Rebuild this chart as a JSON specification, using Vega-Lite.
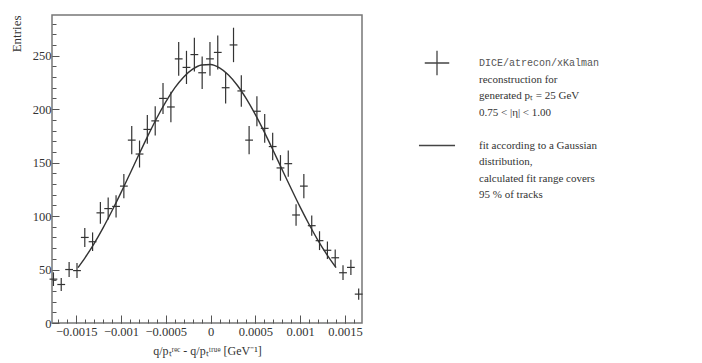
{
  "$schema": "https://vega.github.io/schema/vega-lite/v6.json",
  "padding": {"left": 9, "top": 14, "right": 5, "bottom": 2},
  "background": "white",
  "spacing": 40,
  "config": {
    "font": "Liberation Serif",
    "view": {"stroke": null},
    "axis": {"labelFont": "Liberation Serif", "titleFont": "Liberation Serif", "labelColor": "#333", "titleColor": "#333", "grid": false, "domain": false, "tickColor": "#555", "titleFontWeight": "normal"}
  },
  "datasets": {
    "hist": [
      {"x": -0.001754, "n": 41, "err": 6.4},
      {"x": -0.001667, "n": 36, "err": 6.0},
      {"x": -0.001579, "n": 50, "err": 7.1},
      {"x": -0.001491, "n": 49, "err": 7.0},
      {"x": -0.001404, "n": 80, "err": 8.9},
      {"x": -0.001317, "n": 76, "err": 8.7},
      {"x": -0.00123, "n": 103, "err": 10.1},
      {"x": -0.001143, "n": 107, "err": 10.3},
      {"x": -0.001055, "n": 109, "err": 10.4},
      {"x": -0.000968, "n": 128, "err": 11.3},
      {"x": -0.00088, "n": 171, "err": 13.1},
      {"x": -0.000793, "n": 158, "err": 12.6},
      {"x": -0.000706, "n": 181, "err": 13.5},
      {"x": -0.000618, "n": 189, "err": 13.7},
      {"x": -0.000531, "n": 210, "err": 14.5},
      {"x": -0.000443, "n": 202, "err": 14.2},
      {"x": -0.000356, "n": 247, "err": 15.7},
      {"x": -0.000269, "n": 239, "err": 15.5},
      {"x": -0.000181, "n": 251, "err": 15.8},
      {"x": -0.000094, "n": 234, "err": 15.3},
      {"x": -0.000007, "n": 247, "err": 15.7},
      {"x": 0.00008, "n": 253, "err": 15.9},
      {"x": 0.000168, "n": 220, "err": 14.8},
      {"x": 0.000256, "n": 260, "err": 16.1},
      {"x": 0.000343, "n": 217, "err": 14.7},
      {"x": 0.00043, "n": 171, "err": 13.1},
      {"x": 0.000517, "n": 198, "err": 14.1},
      {"x": 0.000604, "n": 182, "err": 13.5},
      {"x": 0.000693, "n": 165, "err": 12.8},
      {"x": 0.00078, "n": 145, "err": 12.0},
      {"x": 0.000867, "n": 149, "err": 12.2},
      {"x": 0.000954, "n": 101, "err": 10.0},
      {"x": 0.001041, "n": 128, "err": 11.3},
      {"x": 0.001129, "n": 91, "err": 9.5},
      {"x": 0.001216, "n": 77, "err": 8.8},
      {"x": 0.001304, "n": 68, "err": 8.2},
      {"x": 0.001391, "n": 61, "err": 7.8},
      {"x": 0.001478, "n": 47, "err": 6.9},
      {"x": 0.001566, "n": 52, "err": 7.2},
      {"x": 0.001653, "n": 27, "err": 5.2}
    ],
    "fit": [
      {"x": -0.00148, "f": 51.8},
      {"x": -0.0014, "f": 61.2},
      {"x": -0.0013, "f": 74.3},
      {"x": -0.0012, "f": 89.0},
      {"x": -0.0011, "f": 105.0},
      {"x": -0.001, "f": 121.9},
      {"x": -0.0009, "f": 139.6},
      {"x": -0.0008, "f": 157.5},
      {"x": -0.0007, "f": 175.0},
      {"x": -0.0006, "f": 191.7},
      {"x": -0.0005, "f": 206.8},
      {"x": -0.0004, "f": 219.8},
      {"x": -0.0003, "f": 230.1},
      {"x": -0.0002, "f": 237.4},
      {"x": -0.0001, "f": 241.3},
      {"x": 0, "f": 241.7},
      {"x": 0.0001, "f": 238.5},
      {"x": 0.0002, "f": 231.9},
      {"x": 0.0003, "f": 222.1},
      {"x": 0.0004, "f": 209.5},
      {"x": 0.0005, "f": 194.8},
      {"x": 0.0006, "f": 178.5},
      {"x": 0.0007, "f": 161.1},
      {"x": 0.0008, "f": 143.2},
      {"x": 0.0009, "f": 125.5},
      {"x": 0.001, "f": 108.3},
      {"x": 0.0011, "f": 92.1},
      {"x": 0.0012, "f": 77.1},
      {"x": 0.0013, "f": 63.7},
      {"x": 0.0014, "f": 51.8}
    ],
    "legendText": [
      {"entry": "data", "part": "label", "line": 0, "text": "DICE/atrecon/xKalman"},
      {"entry": "data", "part": "label", "line": 1, "text": "reconstruction for"},
      {"entry": "data", "part": "label", "line": 2, "text": "generated pₜ = 25 GeV"},
      {"entry": "data", "part": "label", "line": 3, "text": "0.75 < |η| < 1.00"},
      {"entry": "fit", "part": "label", "line": 5, "text": "fit according to a Gaussian"},
      {"entry": "fit", "part": "label", "line": 6, "text": "distribution,"},
      {"entry": "fit", "part": "label", "line": 7, "text": "calculated fit range covers"},
      {"entry": "fit", "part": "label", "line": 8, "text": "95 % of tracks"}
    ],
    "legendKeys": [
      {"entry": "data", "part": "key", "line": 0},
      {"entry": "fit", "part": "key", "line": 5}
    ]
  },
  "hconcat": [
    {
      "width": 310,
      "height": 308,
      "view": {"stroke": "#777", "strokeWidth": 1.5},
      "layer": [
        {
          "data": {"name": "hist"},
          "mark": {"type": "errorbar", "color": "#333", "rule": {"strokeWidth": 1.2}},
          "encoding": {
            "x": {"field": "x", "type": "quantitative", "scale": {"domain": [-0.00177, 0.00169], "nice": false, "zero": false},
              "axis": {"orient": "bottom", "values": [-0.0015, -0.001, -0.0005, 0, 0.0005, 0.001, 0.0015], "format": "~g", "tickSize": -8, "labelPadding": 10, "labelFontSize": 12.5, "labelFlush": false, "labelOverlap": false, "title": "q/pₜʳᵉᶜ - q/pₜᵗʳᵘᵉ [GeV⁻¹]", "titleFontSize": 12, "titlePadding": 8}},
            "y": {"field": "n", "type": "quantitative", "scale": {"domain": [0, 288], "nice": false},
              "axis": {"orient": "left", "values": [0, 50, 100, 150, 200, 250], "tickSize": -7, "labelPadding": 8, "labelFontSize": 12.5, "labelFlush": false, "title": "Entries", "titleAnchor": "end", "titleFontSize": 13, "titlePadding": 9}},
            "yError": {"field": "err"}
          }
        },
        {
          "data": {"name": "hist"},
          "mark": {"type": "tick", "orient": "horizontal", "color": "#333", "size": 7.8, "thickness": 1.2, "opacity": 1},
          "encoding": {
            "x": {"field": "x", "type": "quantitative", "axis": null},
            "y": {"field": "n", "type": "quantitative", "axis": null}
          }
        },
        {
          "data": {"name": "fit"},
          "mark": {"type": "line", "color": "#333", "strokeWidth": 1.4, "interpolate": "monotone"},
          "encoding": {
            "x": {"field": "x", "type": "quantitative",
              "axis": {"orient": "bottom", "values": [-0.0017, -0.0016, -0.0015, -0.0014, -0.0013, -0.0012, -0.0011, -0.001, -0.0009, -0.0008, -0.0007, -0.0006, -0.0005, -0.0004, -0.0003, -0.0002, -0.0001, 0, 0.0001, 0.0002, 0.0003, 0.0004, 0.0005, 0.0006, 0.0007, 0.0008, 0.0009, 0.001, 0.0011, 0.0012, 0.0013, 0.0014, 0.0015, 0.0016], "tickSize": -4, "labels": false, "title": null}},
            "y": {"field": "f", "type": "quantitative",
              "axis": {"orient": "left", "values": [0, 10, 20, 30, 40, 50, 60, 70, 80, 90, 100, 110, 120, 130, 140, 150, 160, 170, 180, 190, 200, 210, 220, 230, 240, 250, 260, 270, 280], "tickSize": -4, "labels": false, "title": null}}
          }
        }
      ],
      "resolve": {"axis": {"x": "independent", "y": "independent"}}
    },
    {
      "width": 280,
      "height": 308,
      "view": {"stroke": null},
      "encoding": {
        "x": {"field": "part", "type": "nominal", "scale": {"type": "point", "domain": ["key", "label"], "range": [33, 75], "padding": 0}, "axis": null},
        "y": {"field": "line", "type": "quantitative", "scale": {"domain": [0, 8], "range": [48, 180]}, "axis": null}
      },
      "layer": [
        {
          "data": {"name": "legendKeys"},
          "transform": [{"filter": "datum.entry == 'data'"}],
          "mark": {"type": "point", "shape": "M-1,0H1M0,-1V1", "size": 600, "filled": false, "color": "#444", "strokeWidth": 1.3, "opacity": 1}
        },
        {
          "data": {"name": "legendKeys"},
          "transform": [{"filter": "datum.entry == 'fit'"}],
          "mark": {"type": "point", "shape": "M-1,0H1", "size": 1300, "filled": false, "color": "#444", "strokeWidth": 1.3, "opacity": 1}
        },
        {
          "data": {"name": "legendText"},
          "transform": [{"filter": "datum.line == 0"}],
          "mark": {"type": "text", "font": "Liberation Mono", "fontSize": 10, "align": "left", "baseline": "middle", "color": "#555"},
          "encoding": {"text": {"field": "text"}}
        },
        {
          "data": {"name": "legendText"},
          "transform": [{"filter": "datum.line > 0"}],
          "mark": {"type": "text", "font": "Liberation Serif", "fontSize": 11, "align": "left", "baseline": "middle", "color": "#333"},
          "encoding": {"text": {"field": "text"}}
        }
      ]
    }
  ]
}
